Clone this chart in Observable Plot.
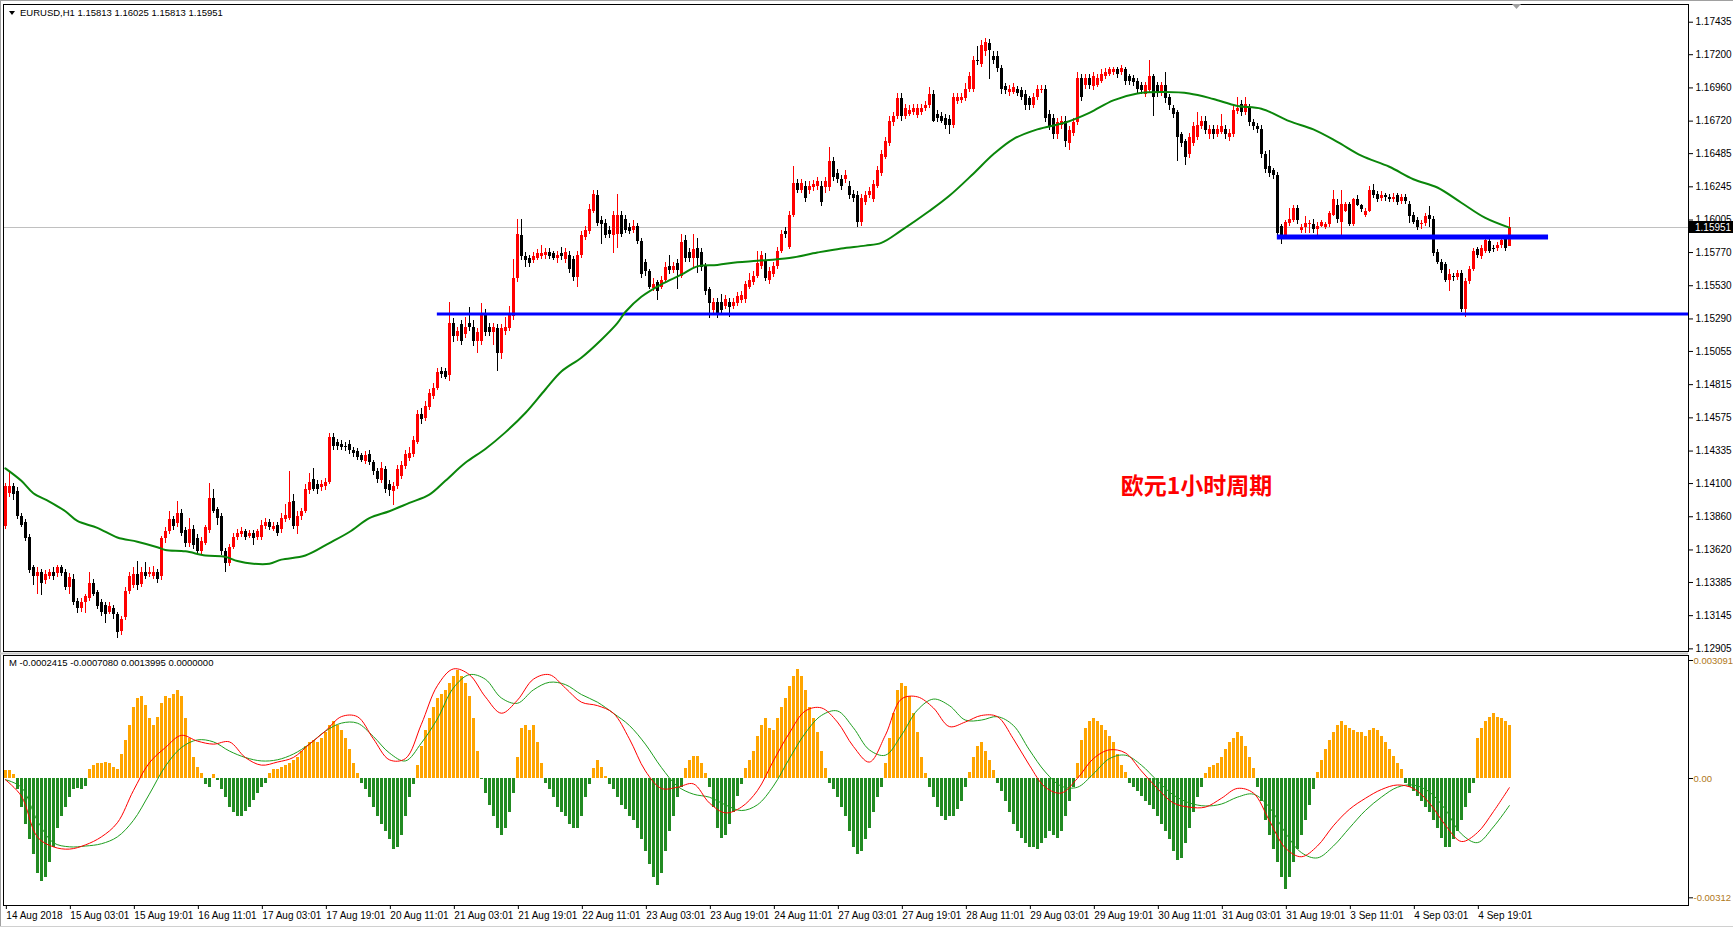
<!DOCTYPE html>
<html><head><meta charset="utf-8">
<script src="https://cdn.jsdelivr.net/npm/d3@7"></script>
<script src="https://cdn.jsdelivr.net/npm/@observablehq/plot@0.6"></script>
<style>
html,body{margin:0;padding:0;background:#fff;}
#wrap{position:relative;width:1733px;height:927px;overflow:hidden;background:#fff;}
#wrap svg{position:absolute;left:0;}
</style></head><body><div id="wrap"></div>
<script>
// ---------- DATA ----------
const symbolTitle = "EURUSD,H1  1.15813 1.16025 1.15813 1.15951";
const indicatorTitle = "M -0.0002415 -0.0007080 0.0013995 0.0000000";
const annotationText = "欧元1小时周期";
const annotationAt = [297.8, 1.14077];   // [bar index, price]
const lastPrice = 1.15951;

const opens = [
1.1379,1.1403,1.1408,1.1404,1.1386,1.1382,1.1371,1.1349,1.1343,1.1346,
1.1340,1.1343,1.1346,1.1345,1.1349,1.1346,1.1335,1.1341,1.1325,1.1320,
1.1324,1.1327,1.1338,1.1331,1.1324,1.1322,1.1317,1.1320,1.1315,1.1303,
1.1313,1.1332,1.1336,1.1344,1.1337,1.1346,1.1344,1.1343,1.1346,1.1343,
1.1370,1.1375,1.1384,1.1381,1.1388,1.1376,1.1367,1.1377,1.1370,1.1361,
1.1367,1.1376,1.1399,1.1391,1.1386,1.1361,1.1352,1.1364,1.1371,1.1373,
1.1375,1.1372,1.1374,1.1371,1.1371,1.1379,1.1382,1.1377,1.1380,1.1377,
1.1384,1.1385,1.1397,1.1379,1.1386,1.1390,1.1405,1.1413,1.1409,1.1407,
1.1408,1.1411,1.1443,1.1440,1.1438,1.1437,1.1438,1.1434,1.1433,1.1430,
1.1426,1.1431,1.1425,1.1419,1.1412,1.1420,1.1409,1.1404,1.1408,1.1415,
1.1422,1.1428,1.1431,1.1440,1.1460,1.1457,1.1465,1.1473,1.1479,1.1491,
1.1491,1.1488,1.1526,1.1516,1.1525,1.1518,1.1526,1.1523,1.1513,1.1513,
1.1532,1.1523,1.1519,1.1522,1.1504,1.1520,1.1522,1.1531,1.1558,1.1589,
1.1574,1.1573,1.1571,1.1573,1.1574,1.1575,1.1577,1.1576,1.1573,1.1576,
1.1572,1.1575,1.1572,1.1559,1.1575,1.1588,1.1592,1.1607,1.1618,1.1600,
1.1598,1.1593,1.1589,1.1590,1.1604,1.1601,1.1595,1.1593,1.1596,1.1585,
1.1570,1.1563,1.1551,1.1555,1.1552,1.1557,1.1567,1.1564,1.1569,1.1560,
1.1586,1.1577,1.1573,1.1580,1.1577,1.1567,1.1550,1.1535,1.1541,1.1541,
1.1538,1.1541,1.1538,1.1540,1.1542,1.1543,1.1552,1.1555,1.1560,1.1567,
1.1571,1.1557,1.1561,1.1567,1.1578,1.1592,1.1581,1.1604,1.1627,1.1622,
1.1625,1.1622,1.1624,1.1625,1.1625,1.1624,1.1624,1.1643,1.1634,1.1630,
1.1630,1.1625,1.1619,1.1618,1.1599,1.1613,1.1618,1.1615,1.1625,1.1634,
1.1646,1.1656,1.1671,1.1675,1.1688,1.1675,1.1677,1.1678,1.1676,1.1678,
1.1681,1.1683,1.1691,1.1677,1.1675,1.1674,1.1673,1.1669,1.1686,1.1687,
1.1688,1.1695,1.1695,1.1716,1.1713,1.1722,1.1728,1.1719,1.1719,1.1710,
1.1697,1.1693,1.1693,1.1695,1.1694,1.1691,1.1688,1.1683,1.1689,1.1694,
1.1695,1.1677,1.1674,1.1662,1.1669,1.1672,1.1656,1.1663,1.1671,1.1703,
1.1698,1.1703,1.1697,1.1698,1.1701,1.1704,1.1706,1.1707,1.1709,1.1707,
1.1709,1.1704,1.1703,1.1701,1.1698,1.1691,1.1694,1.1704,1.1698,1.1692,
1.1698,1.1689,1.1681,1.1678,1.1662,1.1657,1.1648,1.1656,1.1660,1.1668,
1.1672,1.1662,1.1666,1.1662,1.1664,1.1666,1.1660,1.1662,1.1679,1.1684,
1.1678,1.1681,1.1671,1.1668,1.1666,1.1648,1.1639,1.1636,1.1633,1.1596,
1.1589,1.1598,1.1600,1.1609,1.1593,1.1595,1.1597,1.1597,1.1594,1.1596,
1.1595,1.1597,1.1604,1.1611,1.1599,1.1607,1.1612,1.1597,1.1615,1.1611,
1.1604,1.1607,1.1622,1.1619,1.1616,1.1618,1.1617,1.1615,1.1618,1.1614,
1.1617,1.1612,1.1604,1.1600,1.1597,1.1598,1.1604,1.1601,1.1577,1.1570,
1.1568,1.1557,1.1560,1.1559,1.1562,1.1536,1.1556,1.1565,1.1579,1.1574,
1.1578,1.1585,1.1580,1.1580,1.1582,1.1587,1.15813];

const highs = [
1.1410,1.1419,1.1410,1.1407,1.1388,1.1384,1.1373,1.1351,1.1349,1.1348,
1.1347,1.1348,1.1349,1.1351,1.1351,1.1348,1.1345,1.1344,1.1327,1.1327,
1.1330,1.1346,1.1341,1.1333,1.1326,1.1324,1.1324,1.1322,1.1317,1.1314,
1.1335,1.1346,1.1349,1.1354,1.1349,1.1353,1.1349,1.1350,1.1348,1.1372,
1.1378,1.1390,1.1386,1.1397,1.1391,1.1378,1.1385,1.1380,1.1373,1.1371,
1.1380,1.1410,1.1406,1.1393,1.1388,1.1363,1.1366,1.1374,1.1377,1.1378,
1.1377,1.1376,1.1376,1.1377,1.1383,1.1385,1.1384,1.1382,1.1382,1.1388,
1.1395,1.1419,1.1402,1.1390,1.1392,1.1409,1.1417,1.1421,1.1412,1.1412,
1.1414,1.1446,1.1446,1.1442,1.1441,1.1440,1.1441,1.1436,1.1435,1.1432,
1.1433,1.1434,1.1427,1.1421,1.1425,1.1422,1.1412,1.1411,1.1423,1.1426,
1.1434,1.1436,1.1444,1.1463,1.1464,1.1469,1.1478,1.1482,1.1493,1.1494,
1.1493,1.1541,1.1529,1.1523,1.1528,1.1530,1.1537,1.1528,1.1522,1.1540,
1.1536,1.1526,1.1526,1.1525,1.1525,1.1530,1.1538,1.1572,1.1601,1.1601,
1.1577,1.1575,1.1577,1.1579,1.1582,1.1580,1.1580,1.1578,1.1578,1.1581,
1.1580,1.1578,1.1574,1.1578,1.1592,1.1596,1.1612,1.1622,1.1622,1.1603,
1.1601,1.1596,1.1607,1.1619,1.1607,1.1604,1.1598,1.1600,1.1598,1.1587,
1.1572,1.1565,1.1558,1.1557,1.1560,1.1570,1.1575,1.1570,1.1572,1.1590,
1.1589,1.1580,1.1590,1.1587,1.1580,1.1569,1.1552,1.1544,1.1544,1.1547,
1.1546,1.1544,1.1544,1.1548,1.1549,1.1556,1.1562,1.1563,1.1578,1.1578,
1.1576,1.1566,1.1570,1.1581,1.1593,1.1595,1.1607,1.1639,1.1630,1.1630,
1.1628,1.1628,1.1629,1.1631,1.1628,1.1631,1.1653,1.1646,1.1637,1.1633,
1.1636,1.1628,1.1622,1.1621,1.1619,1.1621,1.1624,1.1629,1.1639,1.1651,
1.1660,1.1675,1.1678,1.1692,1.1692,1.1684,1.1683,1.1684,1.1684,1.1684,
1.1686,1.1696,1.1694,1.1680,1.1678,1.1677,1.1676,1.1692,1.1692,1.1692,
1.1699,1.1707,1.1719,1.1726,1.1730,1.1732,1.1731,1.1722,1.1722,1.1712,
1.1699,1.1698,1.1699,1.1697,1.1696,1.1694,1.1690,1.1692,1.1698,1.1698,
1.1698,1.1680,1.1677,1.1674,1.1675,1.1675,1.1668,1.1674,1.1707,1.1706,
1.1706,1.1706,1.1707,1.1706,1.1709,1.1710,1.1711,1.1711,1.1711,1.1712,
1.1711,1.1706,1.1705,1.1703,1.1700,1.1700,1.1716,1.1706,1.1700,1.1700,
1.1707,1.1691,1.1683,1.1680,1.1664,1.1659,1.1663,1.1671,1.1678,1.1675,
1.1675,1.1669,1.1669,1.1669,1.1677,1.1669,1.1666,1.1683,1.1689,1.1687,
1.1689,1.1684,1.1673,1.1670,1.1669,1.1650,1.1651,1.1638,1.1635,1.1597,
1.1600,1.1609,1.1611,1.1611,1.1597,1.1603,1.1600,1.1601,1.1599,1.1600,
1.1599,1.1607,1.1622,1.1615,1.1622,1.1613,1.1613,1.1616,1.1618,1.1612,
1.1609,1.1625,1.1626,1.1621,1.1621,1.1620,1.1619,1.1620,1.1620,1.1619,
1.1619,1.1614,1.1606,1.1602,1.1600,1.1605,1.1610,1.1603,1.1579,1.1572,
1.1570,1.1565,1.1562,1.1564,1.1564,1.1558,1.1567,1.1580,1.1581,1.1582,
1.1588,1.1589,1.1582,1.1584,1.1588,1.1589,1.16025];

const lows = [
1.1377,1.1400,1.1398,1.1384,1.1378,1.1368,1.1345,1.1336,1.1330,1.1329,
1.1337,1.1341,1.1340,1.1342,1.1343,1.1333,1.1330,1.1322,1.1316,1.1317,
1.1316,1.1325,1.1328,1.1319,1.1314,1.1309,1.1315,1.1312,1.1298,1.1300,
1.1311,1.1330,1.1334,1.1333,1.1335,1.1341,1.1342,1.1341,1.1338,1.1340,
1.1367,1.1373,1.1376,1.1378,1.1372,1.1364,1.1364,1.1362,1.1358,1.1358,
1.1365,1.1374,1.1388,1.1380,1.1358,1.1346,1.1350,1.1362,1.1369,1.1371,
1.1369,1.1370,1.1365,1.1369,1.1369,1.1377,1.1376,1.1375,1.1372,1.1374,
1.1382,1.1383,1.1377,1.1373,1.1383,1.1388,1.1402,1.1404,1.1402,1.1404,
1.1405,1.1409,1.1434,1.1434,1.1434,1.1433,1.1431,1.1429,1.1427,1.1425,
1.1424,1.1423,1.1416,1.1410,1.1410,1.1403,1.1401,1.1394,1.1406,1.1413,
1.1420,1.1426,1.1429,1.1438,1.1453,1.1455,1.1463,1.1471,1.1477,1.1486,
1.1485,1.1484,1.1512,1.1513,1.1510,1.1515,1.1520,1.1509,1.1504,1.1510,
1.1516,1.1516,1.1510,1.1491,1.1500,1.1517,1.1520,1.1528,1.1555,1.1571,
1.1566,1.1566,1.1569,1.1571,1.1572,1.1572,1.1572,1.1571,1.1569,1.1571,
1.1569,1.1562,1.1556,1.1552,1.1573,1.1586,1.1590,1.1605,1.1596,1.1583,
1.1587,1.1587,1.1576,1.1580,1.1588,1.1591,1.1590,1.1591,1.1583,1.1558,
1.1560,1.1550,1.1549,1.1542,1.1550,1.1555,1.1561,1.1562,1.1550,1.1558,
1.1570,1.1570,1.1566,1.1562,1.1563,1.1546,1.1529,1.1533,1.1529,1.1533,
1.1536,1.1530,1.1536,1.1538,1.1540,1.1540,1.1550,1.1553,1.1558,1.1565,
1.1556,1.1554,1.1559,1.1565,1.1576,1.1587,1.1579,1.1602,1.1620,1.1620,
1.1613,1.1619,1.1621,1.1622,1.1610,1.1620,1.1621,1.1628,1.1627,1.1622,
1.1627,1.1615,1.1613,1.1595,1.1596,1.1611,1.1616,1.1613,1.1623,1.1632,
1.1644,1.1654,1.1668,1.1673,1.1672,1.1673,1.1675,1.1676,1.1674,1.1676,
1.1679,1.1681,1.1671,1.1671,1.1670,1.1666,1.1662,1.1667,1.1684,1.1685,
1.1686,1.1693,1.1693,1.1712,1.1711,1.1719,1.1702,1.1713,1.1707,1.1691,
1.1691,1.1690,1.1691,1.1690,1.1687,1.1680,1.1680,1.1681,1.1687,1.1692,
1.1671,1.1665,1.1659,1.1659,1.1666,1.1653,1.1651,1.1661,1.1669,1.1686,
1.1695,1.1695,1.1694,1.1696,1.1699,1.1702,1.1704,1.1705,1.1703,1.1705,
1.1698,1.1698,1.1697,1.1692,1.1691,1.1689,1.1692,1.1675,1.1689,1.1690,
1.1685,1.1680,1.1674,1.1643,1.1653,1.1640,1.1645,1.1654,1.1658,1.1666,
1.1662,1.1659,1.1659,1.1660,1.1662,1.1659,1.1657,1.1660,1.1677,1.1675,
1.1676,1.1668,1.1665,1.1663,1.1645,1.1634,1.1631,1.1630,1.1589,1.1583,
1.1588,1.1596,1.1599,1.1597,1.1591,1.1591,1.1591,1.1591,1.1588,1.1595,
1.1594,1.1595,1.1603,1.1598,1.1589,1.1606,1.1596,1.1596,1.1610,1.1606,
1.1602,1.1606,1.1616,1.1613,1.1614,1.1614,1.1613,1.1613,1.1611,1.1612,
1.1612,1.1598,1.1597,1.1593,1.1594,1.1596,1.1595,1.1574,1.1568,1.1562,
1.1555,1.1549,1.1556,1.1557,1.1534,1.1530,1.1554,1.1563,1.1573,1.1572,
1.1576,1.1576,1.1577,1.1578,1.1580,1.1578,1.15813];

const closes = [
1.1408,1.1408,1.1402,1.1386,1.1380,1.1370,1.1347,1.1343,1.1346,1.1338,
1.1344,1.1346,1.1343,1.1349,1.1345,1.1335,1.1342,1.1324,1.1320,1.1324,
1.1328,1.1338,1.1330,1.1321,1.1317,1.1315,1.1321,1.1315,1.1302,1.1312,
1.1332,1.1343,1.1344,1.1336,1.1346,1.1343,1.1346,1.1346,1.1341,1.1370,
1.1375,1.1384,1.1379,1.1388,1.1374,1.1367,1.1377,1.1365,1.1361,1.1368,
1.1378,1.1399,1.1390,1.1385,1.1361,1.1352,1.1364,1.1371,1.1374,1.1375,
1.1371,1.1374,1.1370,1.1375,1.1380,1.1382,1.1378,1.1379,1.1374,1.1385,
1.1387,1.1396,1.1379,1.1386,1.1390,1.1406,1.1411,1.1406,1.1406,1.1409,
1.1411,1.1443,1.1437,1.1437,1.1436,1.1436,1.1434,1.1432,1.1429,1.1427,
1.1430,1.1425,1.1419,1.1413,1.1421,1.1406,1.1405,1.1408,1.1420,1.1423,
1.1431,1.1432,1.1441,1.1460,1.1456,1.1466,1.1475,1.1479,1.1490,1.1489,
1.1487,1.1526,1.1516,1.1520,1.1513,1.1523,1.1523,1.1513,1.1519,1.1532,
1.1519,1.1519,1.1523,1.1504,1.1522,1.1523,1.1532,1.1558,1.1590,1.1574,
1.1571,1.1569,1.1574,1.1576,1.1576,1.1577,1.1574,1.1573,1.1575,1.1574,
1.1577,1.1565,1.1559,1.1575,1.1589,1.1593,1.1608,1.1619,1.1598,1.1597,
1.1589,1.1590,1.1604,1.1604,1.1590,1.1593,1.1592,1.1596,1.1585,1.1561,
1.1563,1.1552,1.1554,1.1549,1.1557,1.1566,1.1564,1.1567,1.1564,1.1584,
1.1573,1.1573,1.1579,1.1573,1.1566,1.1549,1.1540,1.1541,1.1532,1.1535,
1.1543,1.1537,1.1541,1.1545,1.1546,1.1554,1.1557,1.1560,1.1569,1.1575,
1.1558,1.1563,1.1567,1.1578,1.1590,1.1590,1.1604,1.1627,1.1622,1.1627,
1.1616,1.1625,1.1626,1.1628,1.1613,1.1628,1.1643,1.1631,1.1630,1.1625,
1.1633,1.1618,1.1616,1.1599,1.1616,1.1618,1.1621,1.1626,1.1636,1.1648,
1.1657,1.1672,1.1675,1.1688,1.1675,1.1681,1.1680,1.1681,1.1681,1.1681,
1.1683,1.1691,1.1672,1.1674,1.1672,1.1669,1.1669,1.1689,1.1689,1.1689,
1.1695,1.1704,1.1716,1.1715,1.1727,1.1729,1.1723,1.1716,1.1710,1.1695,
1.1694,1.1695,1.1696,1.1692,1.1689,1.1683,1.1683,1.1689,1.1695,1.1695,
1.1674,1.1668,1.1662,1.1671,1.1672,1.1657,1.1665,1.1671,1.1703,1.1689,
1.1703,1.1698,1.1704,1.1703,1.1706,1.1707,1.1709,1.1709,1.1706,1.1710,
1.1701,1.1701,1.1700,1.1695,1.1694,1.1698,1.1704,1.1689,1.1692,1.1698,
1.1688,1.1683,1.1677,1.1660,1.1656,1.1646,1.1660,1.1668,1.1669,1.1672,
1.1665,1.1666,1.1662,1.1666,1.1668,1.1662,1.1663,1.1680,1.1681,1.1678,
1.1684,1.1671,1.1668,1.1666,1.1648,1.1637,1.1634,1.1633,1.1591,1.1589,
1.1599,1.1601,1.1609,1.1600,1.1595,1.1598,1.1598,1.1594,1.1596,1.1599,
1.1597,1.1605,1.1615,1.1601,1.1612,1.1612,1.1597,1.1615,1.1611,1.1608,
1.1607,1.1622,1.1618,1.1615,1.1618,1.1617,1.1615,1.1617,1.1613,1.1617,
1.1614,1.1603,1.1599,1.1595,1.1598,1.1603,1.1601,1.1576,1.1570,1.1564,
1.1557,1.1561,1.1559,1.1562,1.1536,1.1556,1.1565,1.1578,1.1575,1.1580,
1.1586,1.1578,1.1579,1.1582,1.1586,1.1580,1.15951];

// moving average: bar index -> value
const maBars = [0,4,7,11,15,18,23,28,33,38,40,45,50,55,58,62,66,69,75,81,86,91,96,101,106,110,115,120,125,130,135,139,144,149,153,155,159,164,169,173,178,183,188,196,203,209,215,219,224,231,236,242,247,252,258,265,271,277,283,290,296,302,308,314,321,327,333,339,346,352,358,364,370,376];
const maVals = [1.1421,1.1412,1.1403,1.1397,1.1390,1.1383,1.1378,1.1371,1.1368,1.1364,1.1362,1.1361,1.1358,1.1357,1.1354,1.1352,1.1352,1.1355,1.1358,1.1367,1.1375,1.1385,1.1390,1.1396,1.1402,1.1412,1.1425,1.1435,1.1447,1.1461,1.1478,1.1491,1.1501,1.1514,1.1526,1.1534,1.1545,1.1554,1.1561,1.1567,1.1568,1.1570,1.1571,1.1573,1.1577,1.1580,1.1582,1.1584,1.1593,1.1607,1.1618,1.1634,1.1648,1.1659,1.1666,1.1671,1.1678,1.1687,1.1692,1.1693,1.1692,1.1688,1.1683,1.1681,1.1672,1.1666,1.1657,1.1647,1.1639,1.1630,1.1624,1.1613,1.1602,1.1595];

// horizontal support / resistance lines
const levelPrices = [1.15326, 1.15883];
const levelFrom   = [108, 318];
const levelTo     = [420.79, 385.8];

// indicator histogram, one value per bar
const histVals = [
0.0002,0.0002,0.0001,-0.0003,-0.00075,-0.0012,-0.0016,-0.0020,-0.0025,-0.0027,
-0.0026,-0.0022,-0.0018,-0.0013,-0.0010,-0.00075,-0.0005,-0.0003,-0.00025,-0.0003,
-0.0002,0.00023,0.00035,0.0004,0.0004,0.00043,0.00038,0.0003,0.00023,0.00064,
0.0010,0.0014,0.00185,0.0021,0.00214,0.0019,0.00156,0.0014,0.0016,0.00197,
0.00214,0.0021,0.0022,0.0023,0.00214,0.00156,0.00104,0.00055,0.0003,0.00012,
-0.00017,-0.00023,0.0001,-0.00006,-0.0003,-0.0005,-0.00075,-0.0009,-0.0010,-0.0010,
-0.00087,-0.00075,-0.00058,-0.0004,-0.00023,-0.00012,0.00012,0.00023,0.00023,0.0003,
0.00035,0.0004,0.00046,0.00055,0.0007,0.00084,0.00093,0.0010,0.00093,0.00104,
0.0012,0.0014,0.0015,0.0014,0.00127,0.00104,0.00075,0.0004,0.00012,-0.00012,
-0.0003,-0.0005,-0.00075,-0.0010,-0.0012,-0.0014,-0.0016,-0.00185,-0.0018,-0.0015,
-0.0010,-0.0005,-0.00017,0.00035,0.00084,0.00127,0.00156,0.00185,0.0021,0.0022,
0.0023,0.0025,0.00266,0.00283,0.00266,0.0025,0.00214,0.00156,0.0007,-0.00003,
-0.0004,-0.0007,-0.0010,-0.0013,-0.0015,-0.0013,-0.0009,-0.0004,0.00055,0.0013,
0.0014,0.00127,0.0014,0.00093,0.0004,-0.00012,-0.0003,-0.0005,-0.00075,-0.0009,
-0.0010,-0.0012,-0.0013,-0.0013,-0.0010,-0.0005,-0.00017,0.00026,0.00046,0.0003,
0.00006,-0.00017,-0.0003,-0.0005,-0.0007,-0.0008,-0.0010,-0.0011,-0.0013,-0.0016,
-0.0019,-0.00225,-0.0026,-0.0028,-0.0025,-0.0019,-0.0014,-0.0010,-0.0005,-0.00023,
0.00026,0.00046,0.00058,0.00058,0.0004,0.00012,-0.00023,-0.00075,-0.0013,-0.00156,
-0.0015,-0.0012,-0.0009,-0.00046,-0.00017,0.00026,0.00046,0.0007,0.0011,0.0014,
0.00156,0.0013,0.00127,0.00156,0.00185,0.0021,0.0024,0.00266,0.00286,0.00266,
0.0023,0.00185,0.00156,0.0012,0.0007,0.00026,-0.00012,-0.0003,-0.0005,-0.00075,
-0.0010,-0.0014,-0.0018,-0.0020,-0.0019,-0.0016,-0.0013,-0.0009,-0.0005,-0.00023,
0.0004,0.00104,0.0017,0.0023,0.0025,0.0024,0.00214,0.0017,0.0012,0.00055,
0.00012,-0.00023,-0.0005,-0.00075,-0.0010,-0.0011,-0.0010,-0.0010,-0.0008,-0.0006,
-0.00023,0.00017,0.00055,0.00084,0.00093,0.0007,0.00046,0.0002,-0.00012,-0.00035,
-0.0006,-0.0009,-0.0012,-0.0014,-0.00156,-0.0017,-0.0018,-0.0018,-0.00185,-0.0017,
-0.00156,-0.0014,-0.0015,-0.00156,-0.0014,-0.0010,-0.0006,-0.00023,0.0004,0.0010,
0.0013,0.0015,0.00156,0.0015,0.0014,0.00127,0.0011,0.00093,0.00064,0.00035,
0.00017,-0.00012,-0.00023,-0.00035,-0.00046,-0.0006,-0.0007,-0.0008,-0.0010,-0.0012,
-0.0014,-0.0016,-0.0019,-0.00215,-0.0021,-0.0017,-0.0013,-0.0009,-0.0005,-0.00023,
0.00012,0.0003,0.00035,0.0004,0.00055,0.00075,0.00093,0.00104,0.0012,0.0011,
0.00084,0.00055,0.00026,-0.00023,-0.0006,-0.0011,-0.0015,-0.00185,-0.0022,-0.0026,
-0.0029,-0.0026,-0.0022,-0.00185,-0.0015,-0.0011,-0.0007,-0.0003,0.00017,0.00046,
0.00075,0.0010,0.0012,0.0014,0.0015,0.0014,0.0013,0.00127,0.0012,0.0012,
0.0011,0.00127,0.0013,0.00127,0.0011,0.00093,0.00075,0.00058,0.0004,0.00023,
-0.00012,-0.00023,-0.00035,-0.00046,-0.0006,-0.00075,-0.0009,-0.0011,-0.0013,-0.00156,
-0.0018,-0.0018,-0.0016,-0.0014,-0.0011,-0.00075,-0.0004,-0.00012,0.00104,0.0013,
0.0015,0.0016,0.0017,0.0016,0.00156,0.0015,0.0014];

// indicator lines, sampled every SIG_STEP bars
const SIG_STEP = 4;
const redLine = [
-0.00003,-0.00046,-0.00153,-0.00179,-0.00185,-0.00174,-0.00153,-0.00116,-0.00032,0.00041,
0.00081,0.00113,0.00098,0.00090,0.00096,0.00055,0.00035,0.00043,0.00055,0.00090,
0.00124,0.00162,0.00162,0.00104,0.00049,0.00052,0.00142,0.00243,0.00287,0.00272,
0.00214,0.00171,0.00205,0.00260,0.00272,0.00237,0.00200,0.00191,0.00171,0.00104,
0.00020,-0.00026,-0.00023,-0.00014,-0.00064,-0.00090,-0.00075,-0.00032,0.00046,0.00119,
0.00177,0.00185,0.00148,0.00084,0.00043,0.00113,0.00208,0.00214,0.00185,0.00136,
0.00148,0.00165,0.00162,0.00104,0.00035,-0.00023,-0.00038,0.00000,0.00052,0.00075,
0.00067,0.00020,-0.00026,-0.00064,-0.00075,-0.00075,-0.00052,-0.00026,-0.00038,-0.00110,
-0.00182,-0.00205,-0.00177,-0.00124,-0.00081,-0.00052,-0.00029,-0.00017,-0.00026,-0.00064,
-0.00122,-0.00165,-0.00142,-0.00087,-0.00024];
const greenLine = [
-0.00003,-0.00023,-0.00110,-0.00168,-0.00179,-0.00177,-0.00171,-0.00153,-0.00110,-0.00041,
0.00032,0.00081,0.00101,0.00096,0.00072,0.00055,0.00046,0.00049,0.00064,0.00090,
0.00124,0.00145,0.00145,0.00110,0.00067,0.00046,0.00093,0.00156,0.00237,0.00272,
0.00260,0.00211,0.00197,0.00232,0.00252,0.00246,0.00220,0.00200,0.00171,0.00139,
0.00090,0.00029,-0.00020,-0.00041,-0.00049,-0.00069,-0.00084,-0.00069,-0.00020,0.00052,
0.00119,0.00165,0.00177,0.00133,0.00075,0.00061,0.00113,0.00179,0.00208,0.00191,
0.00153,0.00153,0.00162,0.00139,0.00075,0.00017,-0.00020,-0.00023,0.00012,0.00052,
0.00061,0.00035,-0.00006,-0.00043,-0.00064,-0.00072,-0.00067,-0.00049,-0.00041,-0.00075,
-0.00142,-0.00194,-0.00208,-0.00177,-0.00130,-0.00084,-0.00049,-0.00023,-0.00017,-0.00035,
-0.00081,-0.00145,-0.00168,-0.00127,-0.00071];

// axis ticks
const priceTicks = [1.17435,1.17200,1.16960,1.16720,1.16485,1.16245,1.16005,1.15770,1.15530,1.15290,1.15055,1.14815,1.14575,1.14335,1.14100,1.13860,1.13620,1.13385,1.13145,1.12905];
const indTicks = [0.0030912, 0, -0.003126];
const indTickLabels = ["0.003091", "0.00", "-0.00312"];
const dateBars = [0,16,32,48,64,80,96,112,128,144,160,176,192,208,224,240,256,272,288,304,320,336,352,368];
const dateLabels = ["14 Aug 2018","15 Aug 03:01","15 Aug 19:01","16 Aug 11:01","17 Aug 03:01","17 Aug 19:01","20 Aug 11:01","21 Aug 03:01","21 Aug 19:01","22 Aug 11:01","23 Aug 03:01","23 Aug 19:01","24 Aug 11:01","27 Aug 03:01","27 Aug 19:01","28 Aug 11:01","29 Aug 03:01","29 Aug 19:01","30 Aug 11:01","31 Aug 03:01","31 Aug 19:01","3 Sep 11:01","4 Sep 03:01","4 Sep 19:01"];

// ---------- BUILD ----------
const FONT = "'Liberation Sans', Arial, sans-serif";
const candles = opens.map((o, i) => ({i, o, h: highs[i], l: lows[i], c: closes[i], col: closes[i] >= o ? "#ff0000" : "#000000"}));
const ma = maBars.map((b, k) => ({i: b, v: maVals[k]}));
const levels = levelPrices.map((p, k) => ({p, a: levelFrom[k], b: levelTo[k]}));
const hist = histVals.map((v, i) => ({i, v, col: v >= 0 ? "#ffa500" : "#228b22"}));
const sig = redLine.map((r, k) => ({i: k * SIG_STEP, r, g: greenLine[k]}));
const xDomain = [-0.4625, 420.79];

const pricePlot = Plot.plot({
  width: 1733, height: 652, marginLeft: 3, marginRight: 45, marginTop: 4, marginBottom: 1,
  style: {background: "transparent", fontFamily: FONT, fontSize: "10px", overflow: "visible", maxWidth: "none"},
  color: {type: "identity"},
  x: {domain: xDomain, axis: null},
  y: {domain: [1.12886, 1.17563], axis: null},
  marks: [
    Plot.ruleY([lastPrice], {stroke: "#c0c0c0", strokeWidth: 1, shapeRendering: "crispEdges"}),
    Plot.ruleX(candles, {x: "i", y1: "l", y2: "h", stroke: "col", strokeWidth: 1, shapeRendering: "crispEdges"}),
    Plot.ruleX(candles, {x: "i", y1: "o", y2: "c", stroke: "col", strokeWidth: 3, shapeRendering: "crispEdges"}),
    Plot.ruleY(levels.slice(0, 1), {y: "p", x1: "a", x2: "b", stroke: "#0000ff", strokeWidth: 3}),
    Plot.ruleY(levels.slice(1), {y: "p", x1: "a", x2: "b", stroke: "#0000ff", strokeWidth: 5}),
    Plot.line(ma, {x: "i", y: "v", stroke: "#0a860a", strokeWidth: 2, curve: "catmull-rom"}),
    Plot.text([annotationText], {x: () => annotationAt[0], y: () => annotationAt[1], text: d => d,
      fill: "#ff0000", fontSize: 23, fontWeight: "bold", fontFamily: "'Noto Sans CJK SC', sans-serif"}),
    Plot.frame({stroke: "#000", shapeRendering: "crispEdges"}),
    Plot.axisY({anchor: "right", label: null, ticks: priceTicks, tickFormat: d => d.toFixed(5), tickSize: 4, tickPadding: 3, fontSize: 10, fill: "#000"})
  ]
});

const indPlot = Plot.plot({
  width: 1733, height: 275, marginLeft: 3, marginRight: 45, marginTop: 3, marginBottom: 22,
  style: {background: "transparent", fontFamily: FONT, fontSize: "10px", overflow: "hidden", maxWidth: "none"},
  color: {type: "identity"},
  x: {domain: xDomain, axis: null},
  y: {domain: [-0.003327, 0.003222], axis: null},
  marks: [
    Plot.ruleX(hist, {x: "i", y1: 0, y2: "v", stroke: "col", strokeWidth: 2.4, shapeRendering: "crispEdges"}),
    Plot.line(sig, {x: "i", y: "g", stroke: "#1e9e1e", strokeWidth: 1, curve: "catmull-rom"}),
    Plot.line(sig, {x: "i", y: "r", stroke: "#ff0000", strokeWidth: 1, curve: "catmull-rom"}),
    Plot.frame({stroke: "#000", shapeRendering: "crispEdges"}),
    Plot.axisX({anchor: "bottom", label: null, ticks: dateBars, tickFormat: d => dateLabels[dateBars.indexOf(d)],
      tickSize: 4, tickPadding: 2, textAnchor: "start", dx: 1, fontSize: 10, fill: "#000"}),
    Plot.axisY({anchor: "right", label: null, ticks: indTicks, tickFormat: d => indTickLabels[indTicks.indexOf(d)],
      tickSize: 4, tickPadding: 1, fontSize: 9.5, fill: "#b07818", stroke: "#000"})
  ]
});

const wrap = document.getElementById("wrap");
pricePlot.style.top = "0px";
indPlot.style.top = "652px";
wrap.appendChild(indPlot);
wrap.appendChild(pricePlot);

// current price tag on the price axis (uses the plot's own scale)
const yPx = pricePlot.scale("y").apply(lastPrice);
const ps = d3.select(pricePlot);
ps.append("rect").attr("x", 1689).attr("y", Math.round(yPx) - 6).attr("width", 44).attr("height", 12).attr("fill", "#000");
ps.append("text").attr("x", 1695).attr("y", Math.round(yPx) + 4).attr("fill", "#fff")
  .attr("text-anchor", "start").style("font", "10px " + FONT).text(lastPrice.toFixed(5));

// overlay: window chrome and header texts
const ov = d3.select(wrap).append("svg").attr("width", 1733).attr("height", 927)
  .style("top", "0px").style("pointer-events", "none");
ov.append("line").attr("x1", 0.5).attr("x2", 0.5).attr("y1", 0).attr("y2", 927).attr("stroke", "#a0a0a0");
ov.append("line").attr("x1", 0).attr("x2", 1733).attr("y1", 0.5).attr("y2", 0.5).attr("stroke", "#a0a0a0");
ov.append("rect").attr("x", 0).attr("y", 652.5).attr("width", 1688).attr("height", 2).attr("fill", "#c8c8c8");
ov.append("line").attr("x1", 0).attr("x2", 1733).attr("y1", 926.5).attr("y2", 926.5).attr("stroke", "#d0d0d0");
ov.append("path").attr("d", "M9,11 L15,11 L12,15 Z").attr("fill", "#000");
ov.append("text").attr("x", 20).attr("y", 16).attr("text-anchor", "start").style("font", "9.5px " + FONT).attr("fill", "#000").text(symbolTitle);
ov.append("text").attr("x", 9).attr("y", 666).attr("text-anchor", "start").style("font", "9.5px " + FONT).attr("fill", "#000").text(indicatorTitle);
ov.append("path").attr("d", "M1512,4 L1521,4 L1516.5,9 Z").attr("fill", "#a0a0a0");
</script>
</body></html>
